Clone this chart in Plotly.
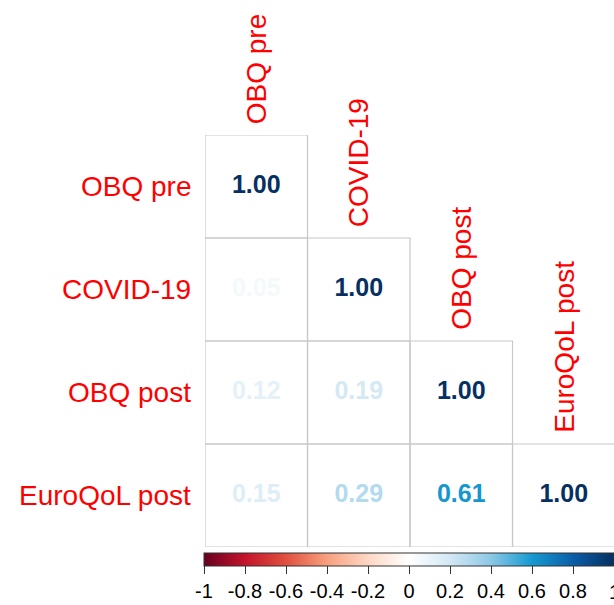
import plotly.graph_objects as go
from plotly.colors import sample_colorscale

variables = ["OBQ pre", "COVID-19", "OBQ post", "EuroQoL post"]
# lower-triangle correlation matrix (row i, col j, j <= i)
corr = [
    [1.00],
    [0.05, 1.00],
    [0.12, 0.19, 1.00],
    [0.15, 0.29, 0.61, 1.00],
]
cbar_ticks = [-1, -0.8, -0.6, -0.4, -0.2, 0, 0.2, 0.4, 0.6, 0.8, 1]
cbar_ticktext = ["-1", "-0.8", "-0.6", "-0.4", "-0.2", "0", "0.2", "0.4", "0.6", "0.8", "1"]

colorscale = [
    [0.0, "#67001F"], [0.1, "#C4142B"], [0.2, "#E0503F"], [0.3, "#F7A07F"],
    [0.4, "#FDD7C4"], [0.5, "#FFFFFF"], [0.6, "#D3E8F4"], [0.7, "#8CC8E6"],
    [0.8, "#1499D0"], [0.9, "#0B5EA8"], [1.0, "#053061"],
]

W, H = 614, 605
left, right, top, bottom = 205, 614, 135, 547
cb_left, cb_top = 204, 553

xs, ys, txt, cols = [], [], [], []
shapes = []
for i, row in enumerate(corr):
    for j, v in enumerate(row):
        xs.append(j)
        ys.append(i)
        txt.append(f"{v:.2f}")
        cols.append(sample_colorscale(colorscale, [(v + 1) / 2])[0])
        shapes.append(dict(type="rect", xref="x", yref="y",
                           x0=j - 0.5, x1=j + 0.5, y0=i - 0.5, y1=i + 0.5,
                           line=dict(color="#C8C8C8", width=1.2),
                           fillcolor="rgba(0,0,0,0)", layer="below"))

fig = go.Figure()
fig.add_trace(go.Scatter(
    x=xs, y=ys, mode="text", text=txt,
    textfont=dict(size=25, color=cols, family="Liberation Sans, Arial", weight="bold"),
    hoverinfo="skip", showlegend=False, cliponaxis=False,
))
# dummy trace for colorbar
fig.add_trace(go.Scatter(
    x=[None], y=[None], mode="markers", showlegend=False, hoverinfo="skip",
    marker=dict(
        colorscale=colorscale, cmin=-1, cmax=1, color=[0], showscale=True,
        colorbar=dict(
            orientation="h", thickness=13, lenmode="pixels", len=right - cb_left,
            x=cb_left / W, xanchor="left", y=(H - cb_top) / H, yanchor="top",
            xpad=0, ypad=0, outlinecolor="#333333", outlinewidth=1,
            tickvals=cbar_ticks[:-1], ticktext=cbar_ticktext[:-1], ticks="outside",
            ticklen=8, tickcolor="#333333",
            tickfont=dict(size=20, color="black", family="Liberation Sans, Arial"),
        ),
    ),
))

annotations = []
for i, name in enumerate(variables):
    annotations.append(dict(x=-0.5, y=i, xref="x", yref="y", text=name,
                            showarrow=False, xanchor="right", yanchor="middle",
                            xshift=-12,
                            font=dict(size=28, color="red", family="Liberation Sans, Arial")))
    annotations.append(dict(x=i, y=i - 0.5, xref="x", yref="y", text=name,
                            showarrow=False, textangle=-90, xanchor="center",
                            yanchor="bottom", yshift=9,
                            font=dict(size=28, color="red", family="Liberation Sans, Arial")))
# last colorbar tick label sits on the page edge (half clipped as in the original)
annotations.append(dict(x=1.0, y=(H - 592) / H, xref="paper", yref="paper",
                        text=cbar_ticktext[-1], showarrow=False, xanchor="center",
                        yanchor="middle",
                        font=dict(size=20, color="black", family="Liberation Sans, Arial")))

fig.update_layout(
    width=W, height=H, margin=dict(l=0, r=0, t=0, b=0, autoexpand=False),
    paper_bgcolor="white", plot_bgcolor="white",
    xaxis=dict(domain=[left / W, 1], range=[-0.5, 3.49], visible=False, fixedrange=True),
    yaxis=dict(domain=[(H - bottom) / H, (H - top) / H], range=[3.5, -0.5],
               visible=False, fixedrange=True),
    shapes=shapes, annotations=annotations,
)
fig.write_html("out.html", config={"displayModeBar": False},
               post_script="document.body.style.margin='0';document.body.style.overflow='hidden';")
